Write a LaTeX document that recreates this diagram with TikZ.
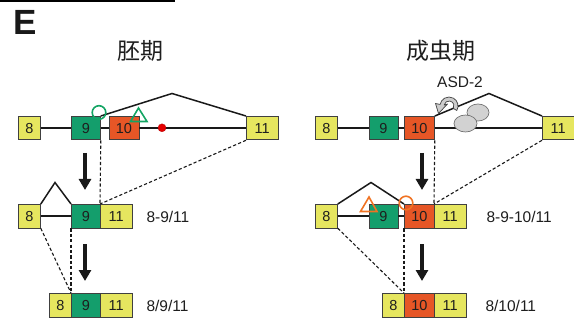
\documentclass[tikz,border=0pt]{standalone}
\usepackage{fontspec}
\setmainfont{Liberation Sans}
\newfontfamily\cjk{Noto Sans CJK SC}
\usetikzlibrary{arrows.meta}
\definecolor{yel}{RGB}{230,230,95}
\definecolor{grn}{RGB}{20,158,108}
\definecolor{org}{RGB}{230,86,38}
\definecolor{mkgreen}{RGB}{20,165,100}
\definecolor{mkorange}{RGB}{240,115,35}
\definecolor{txt}{RGB}{30,30,30}
\tikzset{
  exon/.style={draw=black!75, line width=0.8pt, anchor=north west, inner sep=0pt,
    minimum height=23.5pt, font=\fontsize{14.5}{14.5}\selectfont, text=txt},
  ex8/.style={exon, fill=yel, minimum width=22pt},
  ex9/.style={exon, fill=grn, minimum width=29pt},
  ex10/.style={exon, fill=org, minimum width=30pt},
  ex11/.style={exon, fill=yel, minimum width=31.5pt},
  intron/.style={line width=1.5pt, black!90},
  dashln/.style={line width=1.1pt, dash pattern=on 3.2pt off 2.2pt, black!90},
  bigarrow/.style={line width=3.2pt, black!90, -{Triangle[length=11pt,width=12pt]}},
  lbl/.style={anchor=west, font=\fontsize{15.5}{15.5}\selectfont, text=txt},
  ttl/.style={font=\cjk\fontsize{23}{23}\selectfont, text=txt},
}
\begin{document}
\begin{tikzpicture}[x=1pt,y=-1pt]
\useasboundingbox (0,0) rectangle (574,321);
\fill[black] (0,0) rectangle (175,2.5);
\node[font=\bfseries\fontsize{35}{35}\selectfont, text=black!90] (E) at (25,22) {E};

% titles
\node[ttl] (tL) at (140,51) {胚期};
\node[ttl] (tR) at (441,51) {成虫期};

% ---------- left panel ----------
% row 1
\node[ex8]  (L18)  at (18,116)  {8};
\node[ex9]  (L19)  at (71,116)  {9};
\node[ex10] (L110) at (108.5,116) {10};
\node[ex11] (L111) at (246,116) {11};
\coordinate (La1) at (172,93.5);
\draw[intron] (L18.east) -- (L19.west);
\draw[intron] (L19.east) -- (L110.west);
\draw[intron] (L110.east) -- (L111.west);
\draw[intron] (L19.north east) -- (La1) -- (L111.north west);
\node[circle, fill=red!90!black, draw=red!70!black, line width=0.3pt, minimum size=8pt, inner sep=0pt] (rd) at (162,127.8) {};
\draw[mkgreen, line width=1.6pt] (99,112.5) circle[radius=6.8];
\draw[mkgreen, line width=1.6pt, line join=miter] (138.5,108) -- (130.5,121.5) -- (147,121.5) -- cycle;

% row 2
\node[ex8]  (L28)  at (18,204)  {8};
\node[ex9]  (L29)  at (71,204)  {9};
\node[ex11] (L211) at (100,204) {11};
\coordinate (La2) at (55,182.5);
\draw[intron] (L28.east) -- (L29.west);
\draw[intron] (L28.north east) -- (La2) -- (L29.north west);
\node[lbl] (lab2L) at (143,216.5) {8-9/11};

% row 3
\node[ex8]  (L38)  at (49,293)  {8};
\node[ex9]  (L39)  at (71,293)  {9};
\node[ex11] (L311) at (100,293) {11};
\node[lbl] (lab3L) at (143,305.5) {8/9/11};

% dashed connectors
\draw[dashln] (L19.south east) -- (L211.north west);
\draw[dashln] (L111.south west) -- (L211.north west);
\draw[dashln] (L29.south west) -- (L39.north west);
\draw[dashln] (L28.south east) -- (L39.north west);

% arrows
\coordinate (LA1s) at (85,153);
\coordinate (LA1e) at (85,190);
\coordinate (LA2s) at (85,244);
\coordinate (LA2e) at (85,281);
\draw[bigarrow] (LA1s) -- (LA1e);
\draw[bigarrow] (LA2s) -- (LA2e);

% ---------- right panel ----------
% row 1
\node[ex8]  (R18)  at (315,116) {8};
\node[ex9]  (R19)  at (368.5,116) {9};
\node[ex10] (R110) at (404,116) {10};
\node[ex11] (R111) at (542,116) {11};
\coordinate (Ra1) at (489,93.5);
\draw[intron] (R18.east) -- (R19.west);
\draw[intron] (R19.east) -- (R110.west);
\draw[intron] (R110.east) -- (R111.west);
\draw[intron] (R110.north east) -- (Ra1) -- (R111.north west);
\node[font=\fontsize{15.5}{15.5}\selectfont, text=txt] (asd) at (460,82) {ASD-2};
\draw[fill=gray!35, draw=black!55, line width=0.7pt] (478,112.5) ellipse[x radius=11, y radius=8.5];
\draw[fill=gray!35, draw=black!55, line width=0.7pt] (465.5,123.5) ellipse[x radius=11.5, y radius=8.5];
\filldraw[fill=gray!40, draw=black!75, line width=0.7pt, line join=round]
  (456.8,110.5) arc[start angle=30, end angle=-170, radius=9]
  -- (435.5,103.5) -- (438.5,113.5) -- (447.5,104) -- (444.1,105.1)
  arc[start angle=-170, end angle=30, radius=5] -- cycle;

% row 2
\node[ex8]  (R28)  at (315,204) {8};
\node[ex9]  (R29)  at (368.5,204) {9};
\node[ex10] (R210) at (404,204) {10};
\node[ex11] (R211) at (434,204) {11};
\coordinate (Ra2) at (371,182.5);
\draw[intron] (R28.east) -- (R29.west);
\draw[intron] (R29.east) -- (R210.west);
\draw[intron] (R28.north east) -- (Ra2) -- (R210.north west);
\draw[mkorange, line width=1.6pt, line join=miter] (369,197) -- (360.5,211.5) -- (377,211.5) -- cycle;
\draw[mkorange, line width=1.6pt] (406,203) circle[radius=6.8];
\node[lbl] (lab2R) at (483,216.5) {8-9-10/11};

% row 3
\node[ex8]  (R38)  at (382,293) {8};
\node[ex10] (R310) at (404,293) {10};
\node[ex11] (R311) at (434,293) {11};
\node[lbl] (lab3R) at (482,305.5) {8/10/11};

% dashed connectors
\draw[dashln] (R110.south east) -- (R211.north west);
\draw[dashln] (R111.south west) -- (R211.north west);
\draw[dashln] (R210.south west) -- (R310.north west);
\draw[dashln] (R28.south east) -- (R310.north west);

% arrows
\coordinate (RA1s) at (422,153);
\coordinate (RA1e) at (422,190);
\coordinate (RA2s) at (422,244);
\coordinate (RA2e) at (422,281);
\draw[bigarrow] (RA1s) -- (RA1e);
\draw[bigarrow] (RA2s) -- (RA2e);
\end{tikzpicture}
\end{document}
